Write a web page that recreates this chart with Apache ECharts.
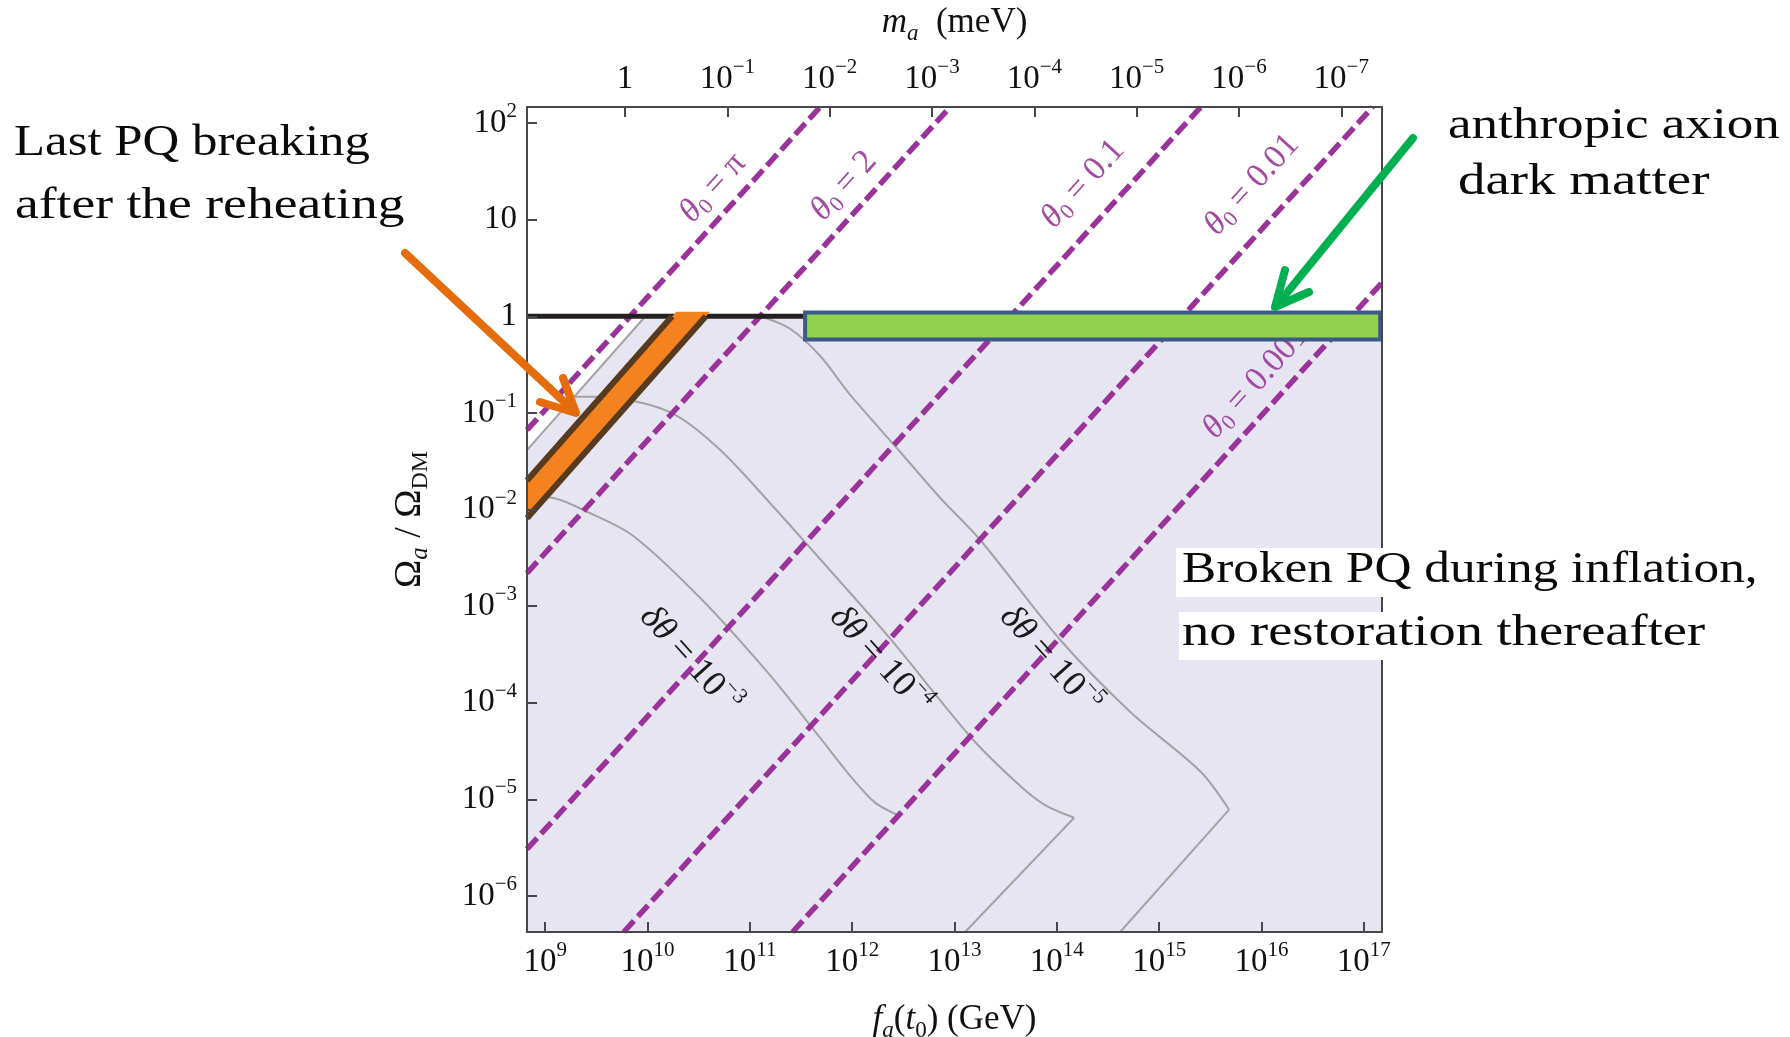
<!DOCTYPE html>
<html><head><meta charset="utf-8">
<script src="https://cdn.jsdelivr.net/npm/echarts@6/dist/echarts.min.js"></script>
<style>html,body{margin:0;padding:0;background:#fff}#c{width:1790px;height:1037px}</style>
</head><body><div id="c"></div>
<script>
// ---------- data (all values are log10) ----------
const faTicks = [9, 10, 11, 12, 13, 14, 15, 16, 17];          // log10 f_a (GeV)
const maTicks = [0, -1, -2, -3, -4, -5, -6, -7];              // log10 m_a (meV)
const omegaTicks = [2, 1, 0, -1, -2, -3, -4, -5, -6];         // log10 Omega_a/Omega_DM
const faRange = [8.822, 17.178];
const omegaRange = [-6.373, 2.166];
const maOffset = 9.78;   // log10 m_a[meV] = maOffset - log10 f_a[GeV]

const lavenderEdge = [[8.822, -1.385], [9.975, 0], [17.178, 0]];
const lavenderBoundary = [[8.822, -1.385], [9.975, -0.005]];
const omegaOneLine = [[8.822, 0], [11.54, 0]];

const thetaPi   = [[8.822, -1.176], [11.687, 2.166]];
const theta2    = [[8.822, -2.658], [12.957, 2.166]];
const theta01   = [[8.822, -5.516], [15.407, 2.166]];
const theta001  = [[9.768, -6.373], [17.087, 2.166]];
const theta0001 = [[11.418, -6.373], [17.178, 0.348]];

const dTheta3 = [[8.822,-1.868],[9.066,-1.878],[9.409,-2.023],[9.858,-2.271],[10.513,-2.913],
  [11.168,-3.679],[11.686,-4.362],[11.979,-4.755],[12.224,-5.034],[12.458,-5.169]];
const dTheta4 = [[9.262,-0.833],[9.438,-0.833],[9.897,-0.885],[10.288,-1.030],[10.709,-1.382],
  [11.168,-1.899],[11.979,-2.862],[12.390,-3.359],[13.182,-4.383],[13.641,-4.859],[13.895,-5.066],[14.169,-5.190]];
const dTheta4Tail = [[14.169,-5.190],[13.104,-6.373]];
const dTheta5 = [[11.119,-0.005],[11.393,-0.129],[11.686,-0.409],[11.979,-0.812],[12.468,-1.402],
  [12.859,-1.878],[13.250,-2.313],[14.032,-3.348],[14.716,-4.093],[15.406,-4.714],[15.684,-5.107]];
const dTheta5Tail = [[15.684,-5.107],[14.619,-6.373]];

const reheatBand = [[8.822,-1.70],[10.28,0.047],[10.61,0.047],[8.822,-2.09]];
const reheatEdgeUpper = [[8.822,-1.70],[10.24,0]];
const reheatEdgeLower = [[8.822,-2.09],[10.57,0]];
const anthropicBox = [[11.54, 17.16, -0.24, 0.04]];   // fa0, fa1, om0, om1

// ---------- styles / layout ----------
const SERIF = '"Liberation Serif", "Times New Roman", serif';
const PURPLE = '#993399';
const GRAY = '#a3a3a3';
const AXIS = '#474747';
const LAV = '#e7e5f1';

function pow10(v) {
  if (v === 0) return '1';
  if (v === 1) return '10';
  return '10{sup|' + (v < 0 ? '\u2212' + (-v) : v) + '}';
}
const tickRich = { sup: { fontSize: 21, fontFamily: SERIF, color: '#111', verticalAlign: 'top', lineHeight: 30 } };
function tickLabel(extra) {
  return Object.assign({ fontSize: 33, fontFamily: SERIF, color: '#111', lineHeight: 44, rich: tickRich, formatter: pow10 }, extra);
}
const nameRich = {
  it: { fontStyle: 'italic', fontSize: 35, fontFamily: SERIF, color: '#111', lineHeight: 44 },
  n: { fontSize: 35, fontFamily: SERIF, color: '#111', lineHeight: 44 },
  sub: { fontStyle: 'italic', fontSize: 23, fontFamily: SERIF, color: '#111', lineHeight: 24, verticalAlign: 'bottom' },
  sub0: { fontSize: 23, fontFamily: SERIF, color: '#111', lineHeight: 24, verticalAlign: 'bottom' }
};
const axisLineStyle = { onZero: false, lineStyle: { color: AXIS, width: 2 } };
const tickStyle = (vals) => ({ show: true, inside: true, length: 10, lineStyle: { color: AXIS, width: 2 }, customValues: vals });

function lineSeries(data, color, width, extra) {
  return Object.assign({ type: 'line', data: data, showSymbol: false, symbol: 'none', silent: true,
    lineStyle: { color: color, width: width }, z: 3 }, extra || {});
}
const dashed = (data) => lineSeries(data, PURPLE, 5, { lineStyle: { color: PURPLE, width: 5.5, type: [15, 6] }, z: 5 });
const gray = (data, sm) => lineSeries(data, GRAY, 2, sm ? { smooth: 0.3 } : {});

const chart = echarts.init(document.getElementById('c'));

const option = {
  animation: false,
  backgroundColor: '#fff',
  grid: { left: 527, top: 107, width: 855, height: 825, containLabel: false, outerBoundsMode: 'none' },
  xAxis: [
    { type: 'value', position: 'bottom', min: faRange[0], max: faRange[1], z: 20,
      axisLine: axisLineStyle, splitLine: { show: false },
      axisTick: tickStyle(faTicks),
      axisLabel: tickLabel({ customValues: faTicks, margin: 8 }),
      name: '{it|f}{sub|a}{n|(}{it|t}{sub0|0}{n|) (GeV)}', nameLocation: 'middle', nameGap: 66,
      nameTextStyle: { rich: nameRich } },
    { type: 'value', position: 'top', inverse: true, min: maOffset - faRange[1], max: maOffset - faRange[0], z: 20,
      axisLine: axisLineStyle, splitLine: { show: false },
      axisTick: tickStyle(maTicks),
      axisLabel: tickLabel({ customValues: maTicks, margin: 6 }),
      name: '{it|m}{sub|a}{n|  (meV)}', nameLocation: 'middle', nameGap: 62,
      nameTextStyle: { rich: nameRich } }
  ],
  yAxis: [
    { type: 'value', position: 'left', min: omegaRange[0], max: omegaRange[1], z: 20,
      axisLine: axisLineStyle, splitLine: { show: false },
      axisTick: tickStyle(omegaTicks),
      axisLabel: tickLabel({ customValues: omegaTicks, margin: 10 }),
      name: '{n|\u03A9}{sub|a}{n| / \u03A9}{sub0|DM}', nameLocation: 'middle', nameGap: 94,
      nameTextStyle: { rich: {
        n: { fontSize: 38, fontFamily: SERIF, color: '#111', lineHeight: 46 },
        sub: { fontStyle: 'italic', fontSize: 25, fontFamily: SERIF, color: '#111', lineHeight: 24, verticalAlign: 'bottom' },
        sub0: { fontSize: 24, fontFamily: SERIF, color: '#111', lineHeight: 24, verticalAlign: 'bottom' } } } },
    { type: 'value', position: 'right', min: omegaRange[0], max: omegaRange[1], z: 20,
      axisLine: axisLineStyle, splitLine: { show: false }, axisTick: { show: false }, axisLabel: { show: false } }
  ],
  series: [
    lineSeries(lavenderEdge, LAV, 0, { lineStyle: { width: 0, color: LAV }, areaStyle: { color: LAV, opacity: 1, origin: 'start' }, z: 1 }),
    gray(lavenderBoundary, false),
    gray(dTheta3, true),
    gray(dTheta4, true),
    gray(dTheta4Tail, false),
    gray(dTheta5, true),
    gray(dTheta5Tail, false),
    dashed(thetaPi), dashed(theta2), dashed(theta01), dashed(theta001), dashed(theta0001),
    lineSeries(omegaOneLine, '#231f20', 5, { z: 6 }),
    { type: 'custom', silent: true, z: 8, data: [reheatBand[0]],
      renderItem: function (params, api) {
        return { type: 'polygon', shape: { points: reheatBand.map(p => api.coord(p)) },
          style: { fill: '#f4821f', stroke: null } };
      } },
    lineSeries(reheatEdgeUpper, '#583a1e', 6, { z: 9 }),
    lineSeries(reheatEdgeLower, '#583a1e', 6, { z: 9 }),
    { type: 'custom', silent: true, z: 12, data: anthropicBox,
      renderItem: function (params, api) {
        const a = api.coord([api.value(0), api.value(3)]);
        const b = api.coord([api.value(1), api.value(2)]);
        return { type: 'rect', shape: { x: a[0], y: a[1], width: b[0] - a[0], height: b[1] - a[1] },
          style: { fill: '#92d050', stroke: '#3b5a86', lineWidth: 4 } };
      } }
  ],
  graphic: []
};
chart.setOption(option);

// ---------- annotations ----------
const TH_ROT = 47.9 * Math.PI / 180;
const DT_ROT = -48 * Math.PI / 180;
const TH_C = '#a04aa0';
const thetaRich = {
  t: { fontStyle: 'italic', fontSize: 34, fontFamily: SERIF, fill: TH_C, lineHeight: 38 },
  s: { fontSize: 22, fontFamily: SERIF, fill: TH_C, lineHeight: 18, verticalAlign: 'bottom' },
  e: { fontSize: 34, fontFamily: SERIF, fill: TH_C, lineHeight: 38 }
};
const DT_C = '#1a1a1a';
const dtRich = {
  t: { fontStyle: 'italic', fontSize: 36, fontFamily: SERIF, fill: DT_C, lineHeight: 46 },
  e: { fontSize: 36, fontFamily: SERIF, fill: DT_C, lineHeight: 46 },
  s: { fontSize: 22, fontFamily: SERIF, fill: DT_C, lineHeight: 30, verticalAlign: 'top' }
};
const noteRich = { a: { fontSize: 45, fontFamily: SERIF, fill: '#0a0a0a', lineHeight: 50 } };
function rotText(x, y, text, rich, rot, z) {
  return { type: 'text', x: x, y: y, rotation: rot, z: z, silent: true,
    style: { text: text, rich: rich, align: 'center', verticalAlign: 'middle', fontSize: 31, fontFamily: SERIF } };
}
function note(x, y, text, sx) {
  return { type: 'text', x: x, y: y, scaleX: sx, z: 101, silent: true,
    style: { text: '{a|' + text + '}', rich: noteRich, align: 'left', verticalAlign: 'middle' } };
}
const graphics = [
  rotText(713, 188, '{t|\u03B8}{s|0}{e| = \u03C0}', thetaRich, TH_ROT, 7),
  rotText(844, 186, '{t|\u03B8}{s|0}{e| = 2}', thetaRich, TH_ROT, 7),
  rotText(1083, 184, '{t|\u03B8}{s|0}{e| = 0.1}', thetaRich, TH_ROT, 7),
  rotText(1252, 185, '{t|\u03B8}{s|0}{e| = 0.01}', thetaRich, TH_ROT, 7),
  rotText(1256, 382, '{t|\u03B8}{s|0}{e| = 0.001}', thetaRich, TH_ROT, 7),
  rotText(690, 660, '{t|\u03B4\u03B8}{e| = 10}{s|\u22123}', dtRich, DT_ROT, 7),
  rotText(880, 660, '{t|\u03B4\u03B8}{e| = 10}{s|\u22124}', dtRich, DT_ROT, 7),
  rotText(1050, 660, '{t|\u03B4\u03B8}{e| = 10}{s|\u22125}', dtRich, DT_ROT, 7),
  // white boxes behind right text
  { type: 'rect', z: 100, silent: true, shape: { x: 1176, y: 548, width: 590, height: 49 }, style: { fill: '#fff' } },
  { type: 'rect', z: 100, silent: true, shape: { x: 1179, y: 612, width: 540, height: 48 }, style: { fill: '#fff' } },
  note(14, 143, 'Last PQ breaking', 1.13),
  note(15, 206, 'after the reheating', 1.19),
  note(1448, 126, 'anthropic axion', 1.18),
  note(1458, 182, 'dark matter', 1.22),
  note(1182, 570, 'Broken PQ during inflation,', 1.14),
  note(1182, 633, 'no restoration thereafter', 1.21),
  // orange arrow
  { type: 'polyline', z: 102, silent: true, shape: { points: [[405, 253], [574, 411]] },
    style: { stroke: '#e46c0a', lineWidth: 8, lineCap: 'round', fill: null } },
  { type: 'polyline', z: 102, silent: true, shape: { points: [[540, 402], [576, 413], [563, 378]] },
    style: { stroke: '#e46c0a', lineWidth: 8, lineCap: 'round', lineJoin: 'round', fill: null } },
  // green arrow
  { type: 'polyline', z: 102, silent: true, shape: { points: [[1413, 138], [1277, 305]] },
    style: { stroke: '#00b050', lineWidth: 8, lineCap: 'round', fill: null } },
  { type: 'polyline', z: 102, silent: true, shape: { points: [[1285, 270], [1275, 307], [1309, 292]] },
    style: { stroke: '#00b050', lineWidth: 8, lineCap: 'round', lineJoin: 'round', fill: null } }
];
chart.setOption({ graphic: graphics });
</script></body></html>
